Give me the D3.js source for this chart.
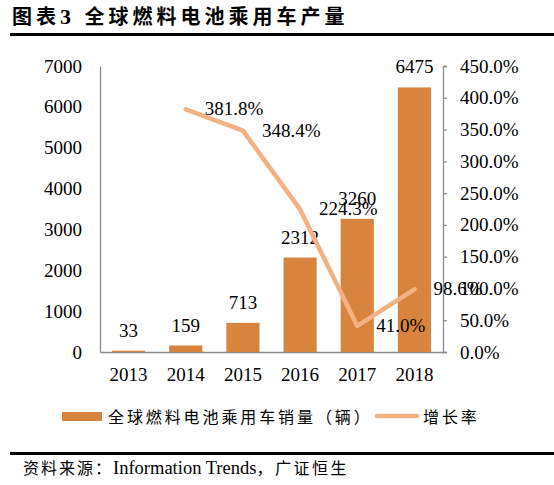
<!DOCTYPE html>
<html>
<head>
<meta charset="utf-8">
<script src="https://cdn.jsdelivr.net/npm/d3@7"></script>
<style>
  body { margin: 0; background: #fff; }
  svg { display: block; }
  .serif { font-family: "Liberation Serif", "Noto Sans CJK SC", serif; }
</style>
</head>
<body>
<div class="container"></div>
<script>
// data
let years = ['2013', '2014', '2015', '2016', '2017', '2018'];
let sales = [33, 159, 713, 2312, 3260, 6475];
let growthYears = ['2014', '2015', '2016', '2017', '2018'];
let growth = [381.8, 348.4, 224.3, 41.0, 98.6];
let leftTicks = [0, 1000, 2000, 3000, 4000, 5000, 6000, 7000];
let rightTicks = [0, 50, 100, 150, 200, 250, 300, 350, 400, 450];

let outerWidth = 554,
    outerHeight = 485;
let margin = {top: 66, right: 111, bottom: 133, left: 100};
let width = outerWidth - margin.left - margin.right,
    height = outerHeight - margin.top - margin.bottom;

let barColor = '#d8843f',
    lineColor = '#f4b183',
    axisColor = '#8c8c8c';

let svg = d3.select('.container').append('svg')
  .attr('width', outerWidth)
  .attr('height', outerHeight);

// title + rules
let title = svg.append('text')
  .attr('x', 12)
  .attr('y', 24)
  .style('font-family', '"Noto Sans CJK SC", sans-serif')
  .style('font-weight', 'bold')
  .style('font-size', '20px')
  .style('letter-spacing', '4px');
title.append('tspan').text('图表');
title.append('tspan').style('font-family', '"Liberation Serif", serif').style('font-size', '22px').text('3 ');
title.append('tspan').text('全球燃料电池乘用车产量');

svg.append('rect').attr('x', 10).attr('y', 33).attr('width', 544).attr('height', 3).attr('fill', '#000');
svg.append('rect').attr('x', 10).attr('y', 452).attr('width', 544).attr('height', 3).attr('fill', '#000');

let group = svg.append('g')
  .attr('transform', `translate(${margin.left},${margin.top})`);

let x = d3.scaleBand()
  .domain(years)
  .range([0, width])
  .paddingInner(0.42)
  .paddingOuter(0.21);

let yLeft = d3.scaleLinear()
  .domain([0, 7000])
  .range([height, 0]);

let yRight = d3.scaleLinear()
  .domain([0, 450])
  .range([height, 0]);

// axes
let leftAxis = d3.axisLeft(yLeft).tickValues(leftTicks).tickSize(0).tickPadding(18)
  .tickFormat(d => d);
let rightAxis = d3.axisRight(yRight).tickValues(rightTicks).tickSize(4).tickPadding(13)
  .tickFormat(d => d.toFixed(1) + '%');
let bottomAxis = d3.axisBottom(x).tickSize(0).tickPadding(16);

group.append('g')
  .attr('class', 'axis serif')
  .call(leftAxis);

group.append('g')
  .attr('class', 'axis serif')
  .attr('transform', `translate(${width},0)`)
  .call(rightAxis);

group.append('g')
  .attr('class', 'axis serif')
  .attr('transform', `translate(0,${height})`)
  .call(bottomAxis);

group.selectAll('.axis path, .axis line').attr('stroke', axisColor).attr('stroke-width', 1.3);
group.selectAll('.axis text')
  .attr('fill', '#000')
  .style('font-family', '"Liberation Serif", serif')
  .style('font-size', '19px');

// bars
group.selectAll('rect.bar')
  .data(sales)
  .enter()
  .append('rect')
  .attr('class', 'bar')
  .attr('x', (d, i) => x(years[i]))
  .attr('width', x.bandwidth())
  .attr('y', d => yLeft(d))
  .attr('height', d => height - yLeft(d))
  .attr('fill', barColor);

group.selectAll('text.barlabel')
  .data(sales)
  .enter()
  .append('text')
  .attr('class', 'barlabel serif')
  .attr('x', (d, i) => x(years[i]) + x.bandwidth() / 2)
  .attr('y', d => yLeft(d) - 14)
  .attr('text-anchor', 'middle')
  .style('font-size', '19px')
  .text(d => d);

// growth line
let cx = yr => x(yr) + x.bandwidth() / 2;
let line = d3.line()
  .x((d, i) => cx(growthYears[i]))
  .y(d => yRight(d));

group.append('path')
  .datum(growth)
  .attr('d', line)
  .attr('fill', 'none')
  .attr('stroke', lineColor)
  .attr('stroke-width', 4.5)
  .attr('stroke-linecap', 'round')
  .attr('stroke-linejoin', 'round');

group.selectAll('text.linelabel')
  .data(growth)
  .enter()
  .append('text')
  .attr('class', 'linelabel serif')
  .attr('x', (d, i) => cx(growthYears[i]) + 19)
  .attr('y', d => yRight(d) + 6)
  .style('font-size', '19px')
  .text(d => d.toFixed(1) + '%');

// legend
let legend = svg.append('g');
legend.append('rect')
  .attr('x', 62).attr('y', 412).attr('width', 40).attr('height', 9)
  .attr('fill', barColor);
legend.append('text')
  .attr('x', 108).attr('y', 423)
  .style('font-family', '"Noto Sans CJK SC", sans-serif')
  .style('font-size', '16px')
  .style('letter-spacing', '2.9px')
  .text('全球燃料电池乘用车销量（辆）');
legend.append('line')
  .attr('x1', 377).attr('x2', 417).attr('y1', 416).attr('y2', 416)
  .attr('stroke', lineColor).attr('stroke-width', 4.5).attr('stroke-linecap', 'round');
legend.append('text')
  .attr('x', 423).attr('y', 423)
  .style('font-family', '"Noto Sans CJK SC", sans-serif')
  .style('font-size', '16px')
  .style('letter-spacing', '2.9px')
  .text('增长率');

// source
let src = svg.append('text')
  .attr('x', 23).attr('y', 474)
  .style('font-size', '16px');
src.append('tspan')
  .style('font-family', '"Noto Sans CJK SC", sans-serif')
  .style('letter-spacing', '2px')
  .text('资料来源：');
src.append('tspan')
  .style('font-family', '"Liberation Serif", serif')
  .style('font-size', '18.5px')
  .text('Information Trends');
src.append('tspan')
  .style('font-family', '"Noto Sans CJK SC", sans-serif')
  .style('letter-spacing', '2.5px')
  .text('，广证恒生');
</script>
</body>
</html>
